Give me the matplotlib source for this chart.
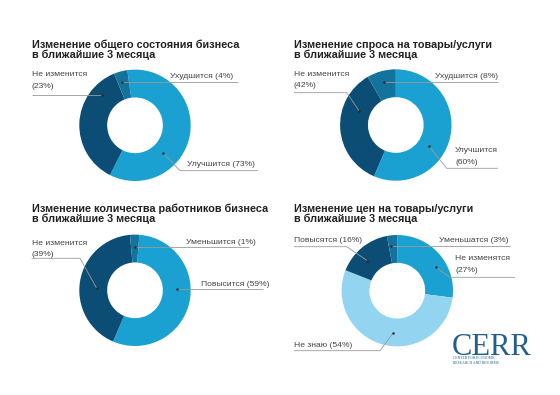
import matplotlib
matplotlib.use("Agg")
import matplotlib.pyplot as plt

plt.rcParams['font.family'] = ['Liberation Sans', 'DejaVu Sans']

# ---------------- data ----------------
titles = [
    ["Изменение общего состояния бизнеса", "в ближайшие 3 месяца"],
    ["Изменение спроса на товары/услуги", "в ближайшие 3 месяца"],
    ["Изменение количества работников бизнеса", "в ближайшие 3 месяца"],
    ["Изменение цен на товары/услуги", "в ближайшие 3 месяца"],
]
# wedge shares as drawn in the picture (clockwise order)
values_business = [59.6, 36.5, 3.9]
values_demand = [56.4, 35.2, 8.4]
values_staff = [55.2, 42.1, 2.7]
values_prices = [27, 54, 16, 3]

labels_business = ["Улучшится (73%)", "Не изменится\n(23%)", "Ухудшится (4%)"]
labels_demand = ["Улучшится\n(60%)", "Не изменится\n(42%)", "Ухудшится (8%)"]
labels_staff = ["Повысится (59%)", "Не изменится\n(39%)", "Уменьшится (1%)"]
labels_prices = ["Не изменятся\n(27%)", "Не знаю (54%)", "Повысятся (16%)", "Уменьшатся (3%)"]

# ---------------- style ----------------
LIGHT = '#1BA1D1'
DARK = '#0B4D74'
MED = '#14739C'
PALE = '#93D5F1'

W, H = 560, 395
fig = plt.figure(figsize=(W / 100, H / 100), dpi=100)
fig.patch.set_facecolor('white')

R = 55.7
charts = [
    dict(vals=values_business, labels=labels_business, colors=[LIGHT, DARK, MED],
         c=(135, 125.3), start=97.9, title_xy=(32, 48.3),
         ann=[
             dict(t=(187, 164), line=[(163, 152.7), (180, 170.7), (258, 170.7)], dot=0),
             dict(t=(32, 75), line=[(32, 94.5), (102.3, 94.5)], dot=-1),
             dict(t=(170, 76), line=[(121.7, 81.7), (238, 81.7)], dot=0),
         ]),
    dict(vals=values_demand, labels=labels_demand, colors=[LIGHT, DARK, MED],
         c=(395.8, 125), start=90, title_xy=(294, 48.3),
         ann=[
             dict(t=(455, 150.7), line=[(429, 146), (446.7, 168.3), (498, 168.3)], dot=0),
             dict(t=(294, 74), line=[(294, 92.7), (346.7, 92.7), (359, 110.7)], dot=-1),
             dict(t=(435, 76.7), line=[(384.3, 81.7), (498, 81.7)], dot=0),
         ]),
    dict(vals=values_staff, labels=labels_staff, colors=[LIGHT, DARK, MED],
         c=(135, 290.3), start=85.5, title_xy=(32, 212.5),
         ann=[
             dict(t=(201, 285), line=[(176.7, 289.3), (263, 289.3)], dot=0),
             dict(t=(31.7, 243.3), line=[(31.7, 258.3), (80, 258.3), (96.7, 288.3)], dot=-1),
             dict(t=(185.7, 242.7), line=[(135, 247.3), (249.3, 247.3)], dot=0),
         ]),
    dict(vals=values_prices, labels=labels_prices, colors=[LIGHT, PALE, DARK, MED],
         c=(397.3, 290.7), start=90, title_xy=(294, 212.5),
         ann=[
             dict(t=(455, 259), line=[(436, 267.3), (450, 277.3), (515, 277.3)], dot=0),
             dict(t=(294, 345.3), line=[(294, 350.7), (380, 350.7), (393.3, 332.7)], dot=-1),
             dict(t=(294, 241), line=[(294, 246.7), (346.7, 246.7), (367.3, 260.7)], dot=-1),
             dict(t=(439.3, 241), line=[(391, 245.7), (510, 245.7)], dot=0),
         ]),
]

# donuts
for ch in charts:
    cx, cy = ch['c']
    ax = fig.add_axes([(cx - R) / W, 1 - (cy + R) / H, 2 * R / W, 2 * R / H])
    ax.pie(ch['vals'], colors=ch['colors'], startangle=ch['start'], counterclock=False,
           radius=1, wedgeprops=dict(width=0.5, linewidth=0))
    ax.set_xlim(-1, 1)
    ax.set_ylim(-1, 1)
    ax.set_aspect('equal')
    ax.axis('off')

# overlay for titles / annotations (pixel coordinates)
ov = fig.add_axes([0, 0, 1, 1], facecolor='none')
ov.set_xlim(0, W)
ov.set_ylim(H, 0)
ov.axis('off')

for ch, ttl in zip(charts, titles):
    tx, ty = ch['title_xy']
    ov.text(tx, ty, ttl[0], fontsize=7.85, fontweight='bold', color='#222222', va='baseline', ha='left')
    ov.text(tx, ty + 10, ttl[1], fontsize=7.85, fontweight='bold', color='#222222', va='baseline', ha='left')
    for lab, a in zip(ch['labels'], ch['ann']):
        x, y = a['t']
        for i, part in enumerate(lab.split('\n')):
            ov.text(x, y + i * 11.5, part, fontsize=6.1, color='#444444', va='center', ha='left')
        xs = [p[0] for p in a['line']]
        ys = [p[1] for p in a['line']]
        ov.plot(xs, ys, color='#9A9A9A', lw=0.6, solid_capstyle='butt')
        d = a['line'][a['dot']]
        ov.plot([d[0]], [d[1]], 'o', color='#2A2A2A', ms=1.8, mew=0)

# logo
serif = ['Liberation Serif', 'DejaVu Serif']
ov.text(452, 355, "CERR", fontsize=22, family=serif,
        color='#245F8C', va='baseline', ha='left')
ov.text(453, 358.3, "CENTER FOR ECONOMIC", fontsize=2.7, family=serif,
        color='#245F8C', va='center', ha='left')
ov.text(453, 363.3, "RESEARCH AND REFORMS", fontsize=2.7, family=serif,
        color='#245F8C', va='center', ha='left')

fig.savefig('out.png', dpi=100, facecolor='white')
